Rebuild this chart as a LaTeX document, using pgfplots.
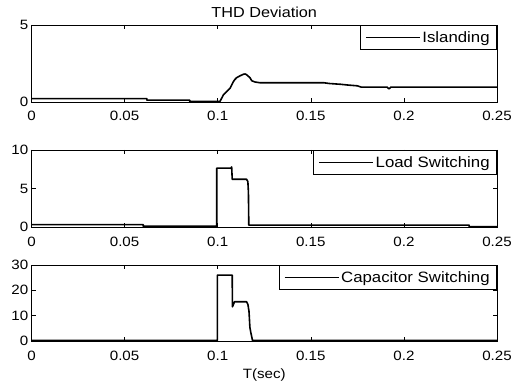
\documentclass[border=0pt]{standalone}
\usepackage{fontspec}
\setmainfont{Liberation Sans}[FakeStretch=1.12]
\usepackage{pgfplots}
\pgfplotsset{compat=1.18}
\pgfplotsset{
 myaxis/.style={
  scale only axis, width=465.5pt, anchor=south west,
  xmin=0, xmax=0.25,
  xtick={0,0.05,0.1,0.15,0.2,0.25},
  xticklabels={0,0.05,0.1,0.15,0.2,0.25},
  tick align=inside, major tick length=4pt,
  every tick/.style={black, line width=0.5pt},
  axis line style={line width=0.7pt},
  font=\fontsize{13.5}{15}\selectfont,
  /pgf/number format/assume math mode=true,
  xticklabel style={anchor=base, yshift=-19pt, inner sep=0pt},
  yticklabel style={anchor=east, xshift=-3pt, inner sep=0pt},
  legend style={at={(1,1)}, anchor=north east, draw=black, line width=0.7pt, fill=white,
    inner xsep=5pt, inner ysep=4pt, font=\fontsize{15}{17}\selectfont},
  legend cell align=left,
  legend image code/.code={\draw[black,line width=1.2pt] (0pt,0pt) -- (54pt,0pt);},
  every axis title shift=0pt,
 }
}
\begin{document}
\begin{tikzpicture}
\path[use as bounding box] (0pt,0pt) rectangle (514pt,386pt);
\begin{axis}[myaxis, at={(31.5pt,284pt)}, height=77pt, ymin=0, ymax=5, ytick={0,5},
  title={THD Deviation}, title style={at={(0.5,1)}, anchor=base, yshift=7pt, inner sep=0pt, font=\fontsize{14.5}{16}\selectfont}]
\addplot[black, line width=1.6pt, line join=round] coordinates {(0,0.22)(0.062,0.22)(0.062,0.12)(0.085,0.12)(0.085,0.03)(0.1012,0.03)(0.103,0.45)(0.1048,0.67)(0.1066,0.89)(0.1075,1.1)(0.1084,1.32)(0.1093,1.47)(0.1102,1.58)(0.112,1.7)(0.1138,1.8)(0.1148,1.82)(0.1156,1.76)(0.1173,1.58)(0.1183,1.38)(0.12,1.3)(0.1227,1.25)(0.157,1.25)(0.16,1.2)(0.166,1.15)(0.17,1.1)(0.175,1.05)(0.177,0.97)(0.191,0.97)(0.192,0.85)(0.193,0.97)(0.25,0.97)};
\addlegendentry{Islanding}
\end{axis}
\begin{axis}[myaxis, at={(31.5pt,159pt)}, height=77pt, ymin=0, ymax=10, ytick={0,5,10}]
\addplot[black, line width=1.6pt, line join=round] coordinates {(0,0.3)(0.06,0.3)(0.06,0.1)(0.0995,0.1)(0.0995,7.65)(0.1072,7.65)(0.1075,7.8)(0.1078,6.2)(0.1155,6.2)(0.1162,5.9)(0.1165,4.5)(0.1167,0.25)(0.235,0.25)(0.235,0.05)(0.25,0.05)};
\addlegendentry{Load Switching}
\end{axis}
\begin{axis}[myaxis, at={(31.5pt,45pt)}, height=76pt, ymin=0, ymax=30, ytick={0,10,20,30},
  xlabel={T(sec)}, xlabel style={at={(0.5,0)}, anchor=base, yshift=-37pt, inner sep=0pt}]
\addplot[black, line width=1.6pt, line join=round] coordinates {(0,0.2)(0.0998,0.2)(0.0998,26)(0.1078,26)(0.1079,13.5)(0.1085,14.5)(0.109,15.5)(0.1155,15.5)(0.1162,14.5)(0.1168,11.8)(0.1173,5.3)(0.1178,3.3)(0.1187,0.2)(0.25,0.2)};
\addlegendentry{Capacitor Switching}
\end{axis}
\end{tikzpicture}
\end{document}
